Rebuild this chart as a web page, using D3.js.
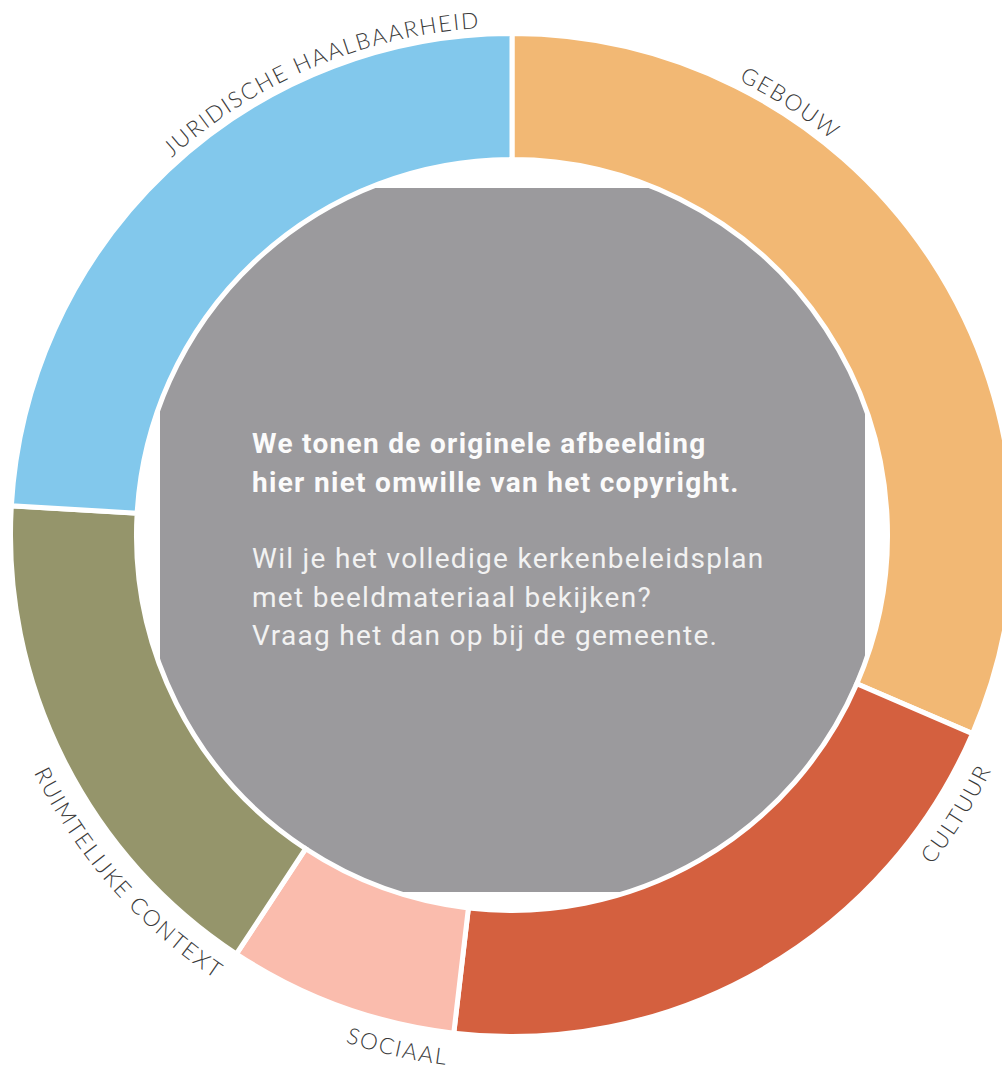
<!DOCTYPE html>
<html>
<head>
<meta charset="utf-8">
<script src="https://cdn.jsdelivr.net/npm/d3@7"></script>
<style>
  html, body { margin: 0; padding: 0; background: #ffffff; }
  svg { display: block; }
</style>
</head>
<body>
<svg id="chart" width="1002" height="1070"></svg>
<script>
// Themes of the church policy plan and their weight in the ring
const categories = ["GEBOUW", "CULTUUR", "SOCIAAL", "RUIMTELIJKE CONTEXT", "JURIDISCHE HAALBAARHEID"];
const values = [17, 11, 4, 9, 13];
const palette = ["#f2b874", "#d4603f", "#fabcad", "#95956b", "#82c8ec"];

// Where each theme name sits around the ring (degrees, clockwise from top)
const labelAngles = [32.8, 122.1, 192.6, 228.6, 337.2];

// Message shown in the middle of the ring
const messageBold = ["We tonen de originele afbeelding", "hier niet omwille van het copyright."];
const messageRegular = ["Wil je het volledige kerkenbeleidsplan", "met beeldmateriaal bekijken?", "Vraag het dan op bij de gemeente."];

const svg = d3.select("#chart");
const cx = 512, cy = 535;
const outerR = 501.5, innerR = 375.5;
const holeR = 376;

const color = d3.scaleOrdinal().domain(categories).range(palette);

const rows = categories.map((c, i) => ({ name: c, value: values[i], labelAngle: labelAngles[i] }));

const pie = d3.pie().sort(null).value(d => d.value);
const arc = d3.arc().innerRadius(innerR).outerRadius(outerR);

// Grey panel in the hole: square clipped by the circle
const defs = svg.append("defs");
defs.append("clipPath").attr("id", "hole")
  .append("circle").attr("cx", cx).attr("cy", cy).attr("r", holeR);

svg.append("rect")
  .attr("x", 160).attr("y", 188)
  .attr("width", 705).attr("height", 704)
  .attr("fill", "#9b9a9d")
  .attr("clip-path", "url(#hole)");

// Ring segments
const g = svg.append("g").attr("transform", `translate(${cx},${cy})`);
g.selectAll("path.slice")
  .data(pie(rows))
  .join("path")
  .attr("class", "slice")
  .attr("d", arc)
  .attr("fill", d => color(d.data.name))
  .attr("stroke", "#ffffff")
  .attr("stroke-width", 5)
  .attr("stroke-linejoin", "miter");

// Curved theme names outside the ring
const rad = deg => deg * Math.PI / 180;
const pt = (r, deg) => [cx + r * Math.sin(rad(deg)), cy - r * Math.cos(rad(deg))];
const span = 60;

rows.forEach((d, i) => {
  const a = d.labelAngle;
  const flipped = a > 90 && a < 270;
  let path;
  if (!flipped) {
    const r = 508;
    const p0 = pt(r, a - span), p1 = pt(r, a + span);
    path = `M${p0[0]},${p0[1]} A${r},${r} 0 0 1 ${p1[0]},${p1[1]}`;
  } else {
    const r = 534;
    const p0 = pt(r, a + span), p1 = pt(r, a - span);
    path = `M${p0[0]},${p0[1]} A${r},${r} 0 0 0 ${p1[0]},${p1[1]}`;
  }
  defs.append("path").attr("id", "lbl" + i).attr("d", path);
  svg.append("text")
    .attr("font-family", "Lato, 'DejaVu Sans', sans-serif")
    .attr("font-weight", 300)
    .attr("font-size", 22.5)
    .attr("letter-spacing", 1.8)
    .attr("fill", "#3a3a3a")
    .append("textPath")
    .attr("href", "#lbl" + i)
    .attr("startOffset", "50%")
    .attr("text-anchor", "middle")
    .text(d.name);
});

// Centre message
const msg = svg.append("g")
  .attr("font-family", "Roboto, 'Open Sans', sans-serif")
  .attr("font-size", 28)
  .attr("letter-spacing", 1.3);

msg.selectAll("text.bold")
  .data(messageBold)
  .join("text")
  .attr("class", "bold")
  .attr("x", 252)
  .attr("y", (d, i) => 453 + i * 39)
  .attr("font-weight", 700)
  .attr("fill", "#fbfbfb")
  .text(d => d);

msg.selectAll("text.reg")
  .data(messageRegular)
  .join("text")
  .attr("class", "reg")
  .attr("x", 252)
  .attr("y", (d, i) => 568 + i * 38.5)
  .attr("font-weight", 400)
  .attr("fill", "#f2f2f2")
  .text(d => d);
</script>
</body>
</html>
